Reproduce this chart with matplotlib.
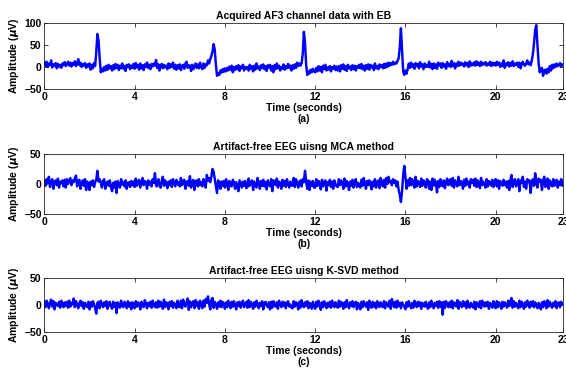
import numpy as np
import matplotlib.pyplot as plt

plt.rcParams['font.family'] = ['Liberation Sans', 'DejaVu Sans']
plt.rcParams['font.weight'] = 'bold'

# values, about 20 points per second over 0 .. 23 s
af3_raw = [
    10, 2, 12, 0, 8, 4, 15, -1, 6, 3, 9, -3, 7, 1, 5, -2, 8, 4, 11, 2,
    7, 12, 3, 10, 1, 9, 5, 13, 2, 8, 18, 4, 10, 0, 7, 3, 9, -2, 6, 1,
    8, -6, 5, -3, 9, 2, 35, 75, 60, 20, -12, -4, -10, 0, -8, 3, -6, 5, -3, 2,
    -8, 4, -5, 7, -2, 5, -7, 3, -3, 8, -4, 2, -9, 5, 0, 6, -5, 3, -2, 7,
    -4, 9, -1, 5, -6, 8, -3, 4, -7, 6, 0, 10, -2, 5, -5, 7, 1, 8, 3, 16,
    -2, 6, -8, 4, 7, -3, 5, -1, 3, -5, 8, -2, 6, 0, 10, -4, 5, -6, 4, -3,
    6, -7, 3, 5, -4, 8, 12, -2, 4, 3, -9, 5, -5, 2, 8, -2, 6, -3, 10, 0,
    -5, 8, -2, 6, 4, 15, 8, 18, 25, 35, 52, 40, 5, -20, -14, -18, -8, -13, -5, -11,
    -3, -10, -2, -8, 1, -6, 3, -12, 0, -7, 2, -5, 4, -9, 1, -3, 5, -8, 0, -4,
    0, -8, 5, -4, 2, -10, 3, -6, 8, -3, 1, -7, 4, -2, 6, -5, 2, -9, 4, -1,
    5, -8, 2, -12, 4, -5, 8, -3, 3, -8, 0, -4, 6, -6, 2, -3, 7, -2, 3, -8,
    4, -4, 6, -2, 10, 2, 8, 3, 9, 30, 80, 55, 5, -18, -10, -15, -6, -12, -4, -10,
    -12, -2, -10, 2, -8, 0, -12, 3, -5, 5, -8, -1, -6, 2, -10, 0, -4, 3, -7, 1,
    -8, 2, -10, 4, -4, 6, -6, 2, -9, 5, -3, 1, -7, 4, -5, 3, -8, 2, -2, 5,
    -3, 7, -5, 3, -8, 4, -4, 6, -6, 5, -1, 3, -7, 8, -3, 2, -5, 6, 0, 4,
    -3, 7, -2, 8, 0, 10, 3, 9, 5, 12, 6, 10, 8, 14, 20, 45, 88, 40, -10, -18,
    -8, -15, -5, 8, -2, 10, 0, 6, -4, 9, 2, 7, -3, 11, 1, 6, -5, 8, 0, 5,
    0, 12, -1, 7, -5, 8, -2, 6, -4, 10, 3, 8, -2, 9, 1, 6, -4, 11, 2, 7,
    0, 14, 2, 9, -3, 8, 2, 12, 3, 10, 5, 8, 1, 11, 4, 9, 0, 13, 3, 8,
    4, 11, 3, 13, 5, 10, 2, 12, 4, 9, 6, 11, 3, 8, 5, 12, 2, 10, 4, 9,
    3, 12, 5, 10, 0, 8, 2, 15, -2, 8, 4, 11, 1, 9, 3, 13, 2, 8, 5, 10,
    0, 10, -3, 6, 12, 5, 3, 8, 15, 6, 10, 4, 15, 30, 55, 85, 95, 50, 10, -12,
    -5, -2, -20, -8, -6, -15, -4, -12, 2, -8, 5, -3, 6, 0, 8, 2, 4, 9, 1, 6,
    4,
]

mca_clean = [
    5, -3, 8, 2, 12, -5, 4, 8, -8, 3, 6, -2, 9, -6, 4, 1, 6, -4, 7, -6,
    8, 0, 5, 10, -2, 6, 3, 9, 14, -4, 5, 7, -8, 2, 6, -3, 8, -10, 4, 1,
    -10, 4, -2, 6, -5, 3, 7, 22, 4, 8, 2, -6, 5, 8, -8, 1, 4, -3, 6, -5,
    -12, 2, -6, 4, -15, 5, -2, -6, 8, -1, 3, -4, 6, -8, 2, 3, -5, 5, -2, 4,
    -5, 9, -3, 4, 7, -6, 2, 10, -2, 5, 3, -8, 6, -1, 4, -4, 8, 2, 18, -3,
    -4, 8, 0, -6, 5, 12, -3, 6, 1, -7, 4, -2, 6, -5, 8, 2, -4, 7, -1, 3,
    -4, 10, -2, 5, 7, -8, 3, 5, -3, 13, -6, 2, 7, -10, 4, 6, -4, 8, -2, 3,
    -4, 8, 2, -6, 15, 5, 10, 3, 12, 25, 20, 8, -5, -15, 6, 2, -8, 4, -3, 5,
    -6, 8, 1, -10, 5, -2, -4, 7, 3, -8, 3, -5, -12, 6, 0, -6, 4, -3, 5, -7,
    -5, 9, -3, 2, 6, -10, 4, -1, -6, 10, 2, -8, 5, -3, 7, -4, 3, -9, 6, 0,
    -4, 8, -12, 6, 1, -2, 9, -6, 4, 2, -8, 7, -3, 5, -5, 8, 0, -6, 4, -2,
    -3, 10, -5, 8, 2, -6, 4, 6, -4, 8, 3, 22, 4, -8, 6, -10, 4, -3, 5, -6,
    -6, 8, -3, 5, 1, -9, 7, -4, 3, 6, -11, 3, -2, 7, -5, 4, -8, 6, 0, -4,
    -5, 8, -2, 6, 2, -8, 9, -4, 5, 1, -10, 4, -3, 7, -6, 3, 8, -5, 2, -3,
    -6, 7, -3, 10, 2, -8, 5, -2, 6, 0, -9, 4, -4, 8, -6, 3, 6, -7, 10, 2,
    -4, 7, -6, 10, 0, 12, 3, 5, -2, 8, 2, 6, -4, 4, -10, -18, -30, -12, 15, 30,
    12, -8, 6, -3, 10, -2, 8, 0, -6, 12, -4, 5, 2, -5, 9, -3, 6, 1, -6, 8,
    6, -8, 4, -10, 9, -3, 7, 2, -14, 5, -5, 8, 0, -4, 6, -7, 3, 9, -2, 5,
    8, -3, 10, -6, 6, 1, -4, 12, -2, 5, 3, -8, 7, -3, 9, -1, 4, -6, 8, 2,
    7, -3, 9, -5, 6, 2, -7, 10, -2, 4, 0, -6, 8, -4, 5, 2, -3, 7, -5, 3,
    8, -4, 6, -8, 5, 1, -3, 7, -2, 4, -6, 5, -10, 6, 15, -5, 3, 8, -4, 2,
    8, -12, 6, 2, 12, -5, 4, -8, 8, 3, 6, -15, 4, 8, -3, 18, 2, -6, 9, 4,
    7, -10, 5, 12, -5, 3, 9, -8, 6, 1, -4, 8, -3, 5, 7, -6, 4, -2, 8, -3,
    5,
]

ksvd_clean = [
    6, -4, 8, 2, -6, 5, 10, -3, 7, -8, 4, 1, -2, 6, -5, 8, 3, -4, 5, -2,
    6, -5, 8, -3, 4, 1, 12, -4, 7, 2, -6, 3, 8, -2, 5, -7, 4, 0, -4, 6,
    -8, 5, -3, 7, 2, -6, -16, 4, 6, -6, 8, 1, -4, 5, -2, 7, -7, 3, 6, -3,
    -7, 6, -3, 4, -15, 5, 1, -5, 8, -2, -4, 6, 2, -6, 7, -3, 4, -8, 5, 1,
    -6, 7, -3, 5, 2, -8, 6, -1, -4, 9, 3, -6, 4, -2, 6, -5, 8, 1, -4, 5,
    -5, 8, -3, 6, 1, -7, 10, -4, 5, 2, -8, 6, -2, 7, -5, 4, 0, -6, 8, -3,
    -4, 8, -6, 10, 2, -3, 5, 12, -9, 7, -4, 3, 7, -6, 9, -2, 5, -7, 8, 1,
    -6, 8, -3, 11, 4, 16, 2, -8, 9, 13, -5, 6, 1, -7, 5, -3, 8, -4, 6, 2,
    -7, 5, -4, 8, 1, -6, 6, -3, 7, 0, -8, 5, -2, 6, -5, 3, 8, -4, 2, 6,
    -5, 9, -4, 6, 1, -7, 5, -3, 8, 2, -6, 4, -2, 7, -8, 3, 6, -1, -4, 5,
    -8, 6, -5, 7, 0, -3, 5, -7, 8, 2, -4, 6, -2, 5, -6, 3, 7, -3, 1, -5,
    -6, 7, -3, 5, 2, -8, 6, -5, 9, 0, -4, 5, -2, 7, -6, 4, 1, -7, 6, -2,
    -7, 6, -3, 8, 1, -9, 5, -4, 7, 2, -6, 4, -3, 6, -5, 8, 0, -4, 5, -2,
    -5, 8, -3, 6, 2, -7, 5, -4, 9, 0, -6, 5, -2, 7, -4, 3, 6, -8, 4, -1,
    -8, 6, -4, 7, 1, -3, 5, -9, 8, 2, -5, 6, -3, 4, -6, 7, 0, -4, 5, -2,
    -4, 7, -6, 5, 1, -3, 8, -7, 11, 2, -4, 6, -5, 8, -2, 4, -6, 5, 1, -3,
    -8, 5, -3, 7, 0, -6, 4, -5, 8, 2, -4, 6, -2, 5, -7, 4, 1, -3, 6, -2,
    -7, 5, -4, 8, 1, -6, 4, -2, 6, -5, 7, -3, 5, -18, 6, -5, 7, 0, -4, 5,
    -4, 8, -6, 5, 2, -3, 9, -7, 6, 1, -4, 7, -2, 5, -6, 8, 0, -5, 4, -1,
    -5, 6, -8, 5, 1, -4, 7, -6, 8, 2, -3, 5, -2, 6, -7, 4, 0, -5, 7, -2,
    -6, 7, -4, 5, 1, -7, 6, -3, 5, 0, -5, 8, -2, 6, 13, -5, 7, -3, 4, -2,
    -6, 8, -4, 6, 1, -7, 5, -3, 8, 2, -5, 6, -2, 7, -4, 5, 0, -6, 4, -1,
    -8, 5, -4, 7, 2, -6, 9, -3, 6, 0, -5, 4, -2, 7, -6, 3, 5, -4, 6, 1,
    2,
]

titles = ["Acquired AF3 channel data with EB",
          "Artifact-free EEG uisng MCA method",
          "Artifact-free EEG uisng K-SVD method"]
letters = ["(a)", "(b)", "(c)"]
x_ticks = [0, 4, 8, 12, 16, 20, 23]
y_ticks = [[-50, 0, 50, 100], [-50, 0, 50], [-50, 0, 50]]
y_lims = [(-50, 100), (-50, 50), (-50, 50)]
series = [af3_raw, mca_clean, ksvd_clean]

fig = plt.figure(figsize=(5.66, 3.73), dpi=100)
# [left, bottom, width, height] per panel
boxes = [[0.0784, 0.7614, 0.917, 0.1769],
         [0.0784, 0.4263, 0.917, 0.1609],
         [0.0784, 0.1099, 0.917, 0.1448]]

fs = 7.5
for i in range(3):
    ax = fig.add_axes(boxes[i])
    y = np.array(series[i])
    t = np.linspace(0, 23, len(y))
    ax.plot(t, y, color='#0000ff', lw=1.75)
    ax.set_xlim(0, 23)
    ax.set_ylim(*y_lims[i])
    ax.set_xticks(x_ticks)
    ax.set_yticks(y_ticks[i])
    ax.tick_params(direction='in', length=3, width=0.6, labelsize=fs,
                   top=True, right=True, pad=2, colors='#262626',
                   labelcolor='black')
    for lab in ax.get_xticklabels() + ax.get_yticklabels():
        lab.set_fontweight('bold')
    for s in ax.spines.values():
        s.set_linewidth(0.6)
        s.set_color('#262626')
    ax.set_title(titles[i], fontsize=fs, fontweight='bold', pad=3)
    ax.set_xlabel("Time (seconds)\n" + letters[i], fontsize=fs,
                  fontweight='bold', labelpad=1, linespacing=1.15)
    ax.set_ylabel(r"Amplitude ($\mu$V)", fontsize=fs, fontweight='bold',
                  labelpad=2)

fig.savefig("out.png", dpi=100)
